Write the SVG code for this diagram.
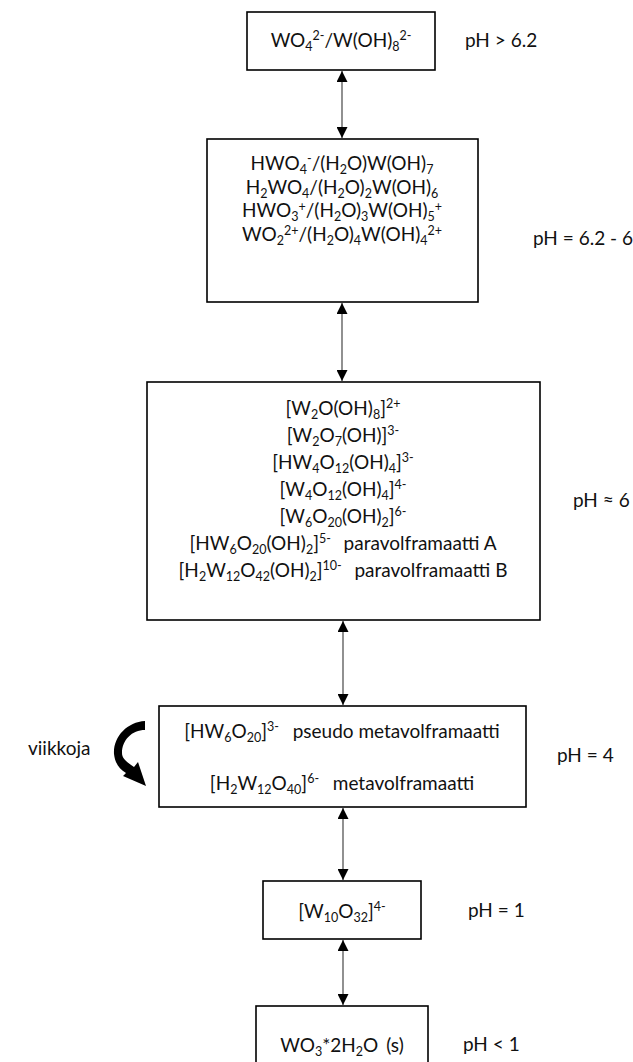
<svg xmlns="http://www.w3.org/2000/svg" width="633" height="1062" viewBox="0 0 633 1062">
<style>
.t{font-family:Lato,"Liberation Sans",sans-serif;font-size:19px;fill:#111;white-space:pre}
.c{text-anchor:middle}
.s{font-size:12.5px}
.box{fill:#fff;stroke:#000;stroke-width:1.6}
.conn{stroke:#555;stroke-width:1.3;fill:none}
</style>
<defs>
<marker id="ah" viewBox="0 0 10 10" refX="10" refY="5" markerWidth="11" markerHeight="11" markerUnits="userSpaceOnUse" orient="auto-start-reverse"><path d="M0,0 L10,5 L0,10 z" fill="#000"/></marker>
</defs>
<rect width="633" height="1062" fill="#fff"/>
<g id="connectors">
<line class="conn" x1="342" y1="71" x2="342" y2="138" marker-start="url(#ah)" marker-end="url(#ah)"/>
<line class="conn" x1="342" y1="303" x2="342" y2="381" marker-start="url(#ah)" marker-end="url(#ah)"/>
<line class="conn" x1="343" y1="621" x2="343" y2="705" marker-start="url(#ah)" marker-end="url(#ah)"/>
<line class="conn" x1="343" y1="808" x2="343" y2="880" marker-start="url(#ah)" marker-end="url(#ah)"/>
<line class="conn" x1="343" y1="940" x2="343" y2="1005" marker-start="url(#ah)" marker-end="url(#ah)"/>
<path d="M145,721 C127,722 113,737 114,754 C115,763 119,769 126,773 L123,776 L146,786 L138,762 L134,767 C128,763 122,759 122,753 C122,740 132,730 145,730 Z" fill="#000"/>
</g>
<g id="n1">
<rect class="box" x="247" y="12" width="188" height="58"/>
<text class="t c" x="341" y="47">WO<tspan class="s" dy="4">4</tspan><tspan class="s" dy="-11">2-</tspan><tspan dy="7">/W(OH)</tspan><tspan class="s" dy="4">8</tspan><tspan class="s" dy="-11">2-</tspan></text>
<text class="t" x="465" y="47">pH &gt; 6.2</text>
</g>
<g id="n2">
<rect class="box" x="207" y="139" width="271" height="163"/>
<text class="t c" x="342" y="170">HWO<tspan class="s" dy="4">4</tspan><tspan class="s" dy="-11">-</tspan><tspan dy="7">/(H</tspan><tspan class="s" dy="4">2</tspan><tspan dy="-4">O)W(OH)</tspan><tspan class="s" dy="4">7</tspan></text>
<text class="t c" x="342" y="193.5">H<tspan class="s" dy="4">2</tspan><tspan dy="-4">WO</tspan><tspan class="s" dy="4">4</tspan><tspan dy="-4">/(H</tspan><tspan class="s" dy="4">2</tspan><tspan dy="-4">O)</tspan><tspan class="s" dy="4">2</tspan><tspan dy="-4">W(OH)</tspan><tspan class="s" dy="4">6</tspan></text>
<text class="t c" x="342" y="217">HWO<tspan class="s" dy="4">3</tspan><tspan class="s" dy="-10">+</tspan><tspan dy="6">/(H</tspan><tspan class="s" dy="4">2</tspan><tspan dy="-4">O)</tspan><tspan class="s" dy="4">3</tspan><tspan dy="-4">W(OH)</tspan><tspan class="s" dy="4">5</tspan><tspan class="s" dy="-10">+</tspan></text>
<text class="t c" x="342" y="240.5">WO<tspan class="s" dy="4">2</tspan><tspan class="s" dy="-10">2+</tspan><tspan dy="6">/(H</tspan><tspan class="s" dy="4">2</tspan><tspan dy="-4">O)</tspan><tspan class="s" dy="4">4</tspan><tspan dy="-4">W(OH)</tspan><tspan class="s" dy="4">4</tspan><tspan class="s" dy="-10">2+</tspan></text>
<text class="t" x="533" y="245">pH = 6.2 - 6</text>
</g>
<g id="n3">
<rect class="box" x="147" y="382" width="393" height="238"/>
<text class="t c" x="343" y="415">[W<tspan class="s" dy="4">2</tspan><tspan dy="-4">O(OH)</tspan><tspan class="s" dy="4">8</tspan><tspan dy="-4">]</tspan><tspan class="s" dy="-7">2+</tspan></text>
<text class="t c" x="343" y="442">[W<tspan class="s" dy="4">2</tspan><tspan dy="-4">O</tspan><tspan class="s" dy="4">7</tspan><tspan dy="-4">(OH)]</tspan><tspan class="s" dy="-7">3-</tspan></text>
<text class="t c" x="343" y="469">[HW<tspan class="s" dy="4">4</tspan><tspan dy="-4">O</tspan><tspan class="s" dy="4">12</tspan><tspan dy="-4">(OH)</tspan><tspan class="s" dy="4">4</tspan><tspan dy="-4">]</tspan><tspan class="s" dy="-7">3-</tspan></text>
<text class="t c" x="343" y="496">[W<tspan class="s" dy="4">4</tspan><tspan dy="-4">O</tspan><tspan class="s" dy="4">12</tspan><tspan dy="-4">(OH)</tspan><tspan class="s" dy="4">4</tspan><tspan dy="-4">]</tspan><tspan class="s" dy="-7">4-</tspan></text>
<text class="t c" x="343" y="523">[W<tspan class="s" dy="4">6</tspan><tspan dy="-4">O</tspan><tspan class="s" dy="4">20</tspan><tspan dy="-4">(OH)</tspan><tspan class="s" dy="4">2</tspan><tspan dy="-4">]</tspan><tspan class="s" dy="-7">6-</tspan></text>
<text class="t c" x="343" y="550">[HW<tspan class="s" dy="4">6</tspan><tspan dy="-4">O</tspan><tspan class="s" dy="4">20</tspan><tspan dy="-4">(OH)</tspan><tspan class="s" dy="4">2</tspan><tspan dy="-4">]</tspan><tspan class="s" dy="-7">5-</tspan><tspan dy="7" dx="3">  paravolframaatti A</tspan></text>
<text class="t c" x="343" y="577">[H<tspan class="s" dy="4">2</tspan><tspan dy="-4">W</tspan><tspan class="s" dy="4">12</tspan><tspan dy="-4">O</tspan><tspan class="s" dy="4">42</tspan><tspan dy="-4">(OH)</tspan><tspan class="s" dy="4">2</tspan><tspan dy="-4">]</tspan><tspan class="s" dy="-7">10-</tspan><tspan dy="7" dx="3">  paravolframaatti B</tspan></text>
<text class="t" x="573" y="507">pH ≈ 6</text>
</g>
<g id="n4">
<rect class="box" x="159" y="706" width="367" height="101"/>
<text class="t c" x="342" y="738">[HW<tspan class="s" dy="4">6</tspan><tspan dy="-4">O</tspan><tspan class="s" dy="4">20</tspan><tspan dy="-4">]</tspan><tspan class="s" dy="-7">3-</tspan><tspan dy="7" dx="4">  pseudo metavolframaatti</tspan></text>
<text class="t c" x="342" y="790">[H<tspan class="s" dy="4">2</tspan><tspan dy="-4">W</tspan><tspan class="s" dy="4">12</tspan><tspan dy="-4">O</tspan><tspan class="s" dy="4">40</tspan><tspan dy="-4">]</tspan><tspan class="s" dy="-7">6-</tspan><tspan dy="7" dx="4">  metavolframaatti</tspan></text>
<text class="t" x="557" y="762">pH = 4</text>
<text class="t" x="28" y="755">viikkoja</text>
</g>
<g id="n5">
<rect class="box" x="263" y="881" width="158" height="58"/>
<text class="t c" x="342" y="918">[W<tspan class="s" dy="4">10</tspan><tspan dy="-4">O</tspan><tspan class="s" dy="4">32</tspan><tspan dy="-4">]</tspan><tspan class="s" dy="-7">4-</tspan></text>
<text class="t" x="468" y="917">pH = 1</text>
</g>
<g id="n6">
<rect class="box" x="256" y="1006" width="172" height="60"/>
<text class="t c" x="342" y="1052">WO<tspan class="s" dy="4">3</tspan><tspan dy="-4">*2H</tspan><tspan class="s" dy="4">2</tspan><tspan dy="-4">O</tspan><tspan dx="3"> (s)</tspan></text>
<text class="t" x="463" y="1051">pH &lt; 1</text>
</g>
</svg>
